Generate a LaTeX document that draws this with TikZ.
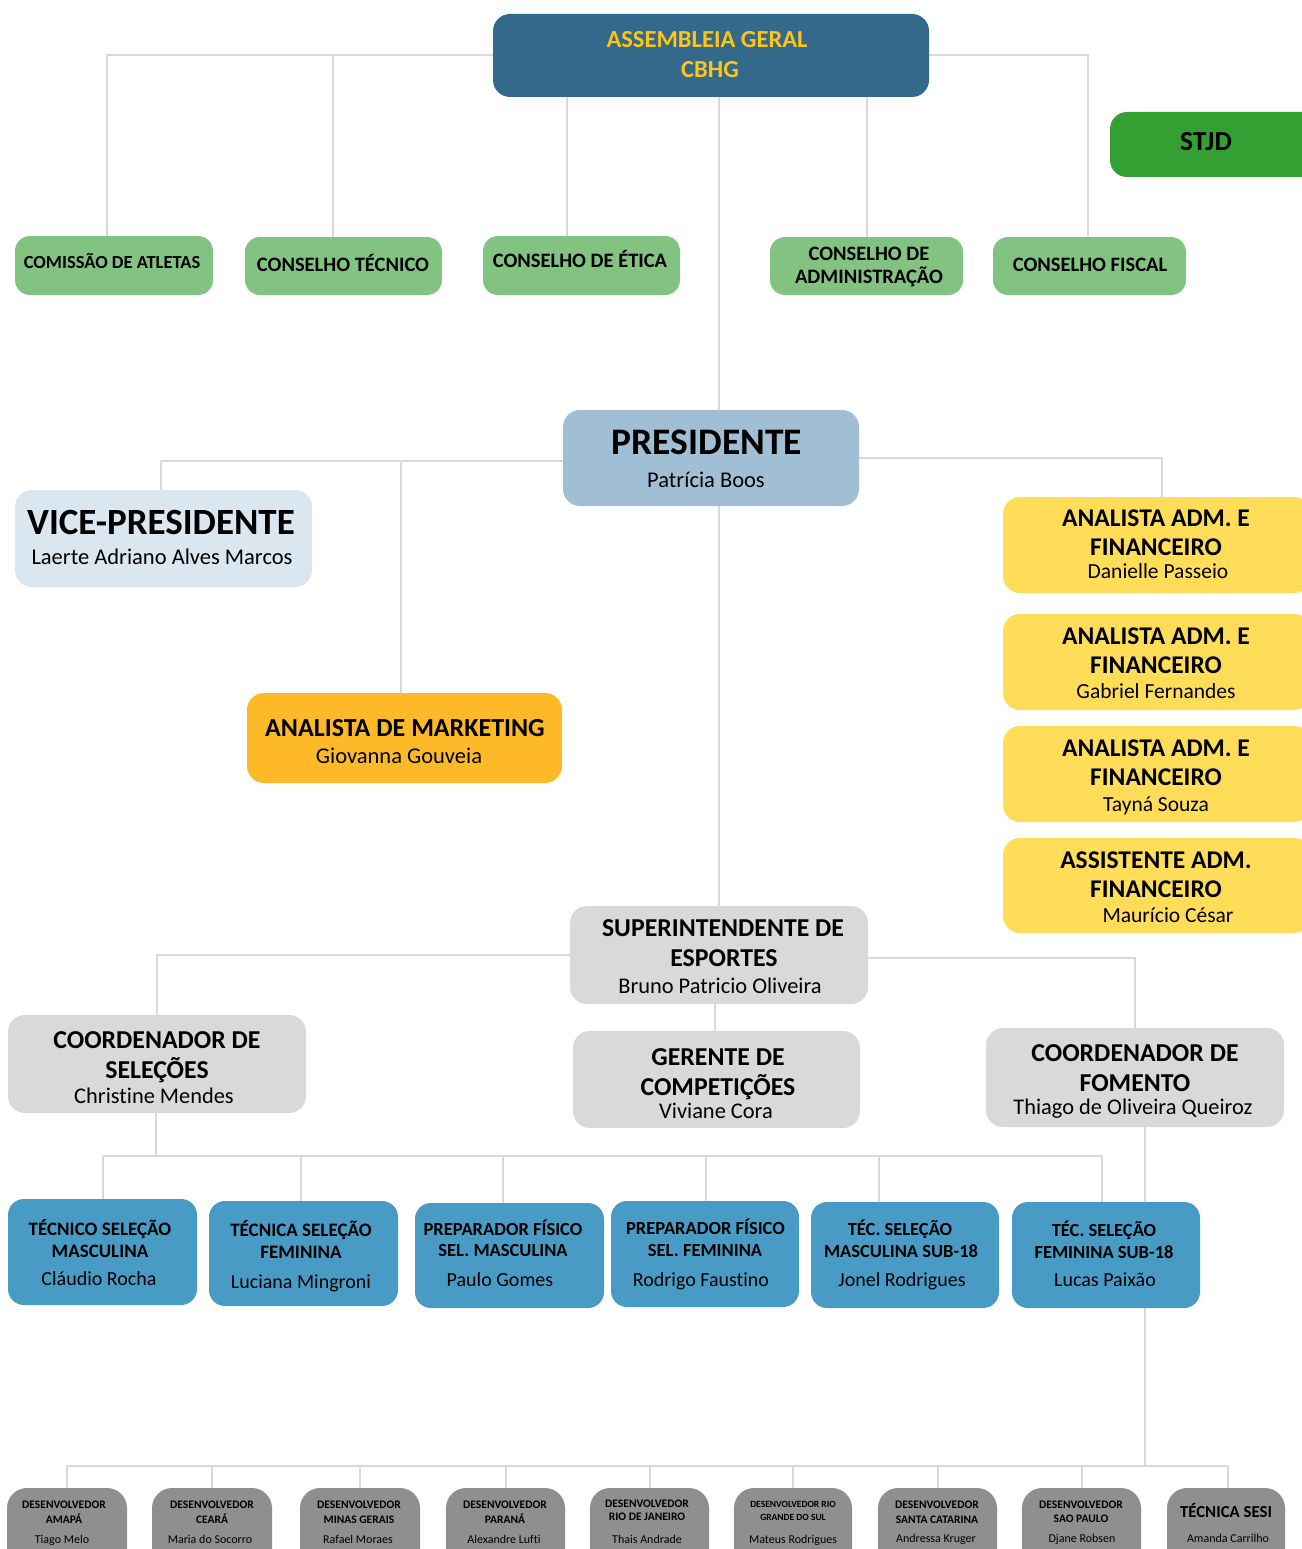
\documentclass[tikz,border=0pt]{standalone}
\usepackage{fontspec}
\setmainfont{Carlito}[Ligatures=NoCommon]
\definecolor{agblue}{RGB}{51,106,140}
\definecolor{agtext}{RGB}{255,196,20}
\definecolor{cgreen}{RGB}{130,195,130}
\definecolor{stjdgreen}{RGB}{52,160,52}
\definecolor{presblue}{RGB}{160,191,213}
\definecolor{vpblue}{RGB}{218,230,240}
\definecolor{mkorange}{RGB}{253,185,39}
\definecolor{admyellow}{RGB}{255,221,89}
\definecolor{lgray}{RGB}{217,217,217}
\definecolor{tblue}{RGB}{72,155,196}
\definecolor{dgray}{RGB}{143,143,143}
\definecolor{linegray}{RGB}{217,217,217}
\pgfdeclarelayer{bg}
\pgfsetlayers{bg,main}
% box: [opt]{name}{cx}{cy}{w}{h}{fill}
\newcommand\B[7][]{\node[box,fill=#7,minimum width=#5pt,minimum height=#6pt,#1] (#2) at (#3,#4) {};}
% bold caps text: [opt]{name}{x}{y-center}{size}{text}
\newcommand\TB[6][]{\node[anchor=base,inner sep=0pt,font=\fontsize{#5}{#5}\selectfont\bfseries,#1] (#2) at (#3,{#4+0.316*#5}) {#6};}
% regular text
\newcommand\TN[6][]{\node[anchor=base,inner sep=0pt,font=\fontsize{#5}{#5}\selectfont,#1] (#2) at (#3,{#4+0.30*#5}) {#6};}
\begin{document}
\begin{tikzpicture}[x=1pt,y=-1pt,
  box/.style={draw=none,rounded corners=17pt,inner sep=0pt,outer sep=0pt},
  conn/.style={draw=linegray,line width=2pt}]
\useasboundingbox (0,0) rectangle (1301,1549);
% ---------- top level
\B{ag}{711}{55.5}{436}{83}{agblue}
\TB[text=agtext]{tag1}{707}{40}{24.5}{ASSEMBLEIA GERAL}
\TB[text=agtext]{tag2}{710}{70}{24.5}{CBHG}
\B[rounded corners=15pt]{ca}{114}{265.5}{198}{59}{cgreen}
\TB{tca}{112}{263}{18.5}{COMISSÃO DE ATLETAS}
\B[rounded corners=15pt]{ct}{343.5}{266}{197}{58}{cgreen}
\TB{tct}{343}{265}{20.5}{CONSELHO TÉCNICO}
\B[rounded corners=15pt]{ce}{581.5}{265.5}{197}{59}{cgreen}
\TB{tce}{580}{261}{20.5}{CONSELHO DE ÉTICA}
\B[rounded corners=15pt]{cadm}{866.5}{266}{193}{58}{cgreen}
\TB{tcadm1}{869}{254}{20.5}{CONSELHO DE}
\TB{tcadm2}{869}{277}{20.5}{ADMINISTRAÇÃO}
\B[rounded corners=15pt]{cf}{1089.5}{266}{193}{58}{cgreen}
\TB{tcf}{1090}{265}{20.5}{CONSELHO FISCAL}
\B{stjd}{1216}{144.5}{212}{65}{stjdgreen}
\TB{tstjd}{1206}{142}{27.5}{STJD}
% ---------- presidency
\B{pres}{711}{458}{296}{96}{presblue}
\TB{tpres1}{707}{443}{37.5}{PRESIDENTE}
\TN{tpres2}{706}{481}{22.5}{Patrícia Boos}
\B{vp}{163.5}{538.5}{297}{97}{vpblue}
\TB{tvp1}{161}{523}{37}{VICE-PRESIDENTE}
\TN{tvp2}{162}{558}{22.5}{Laerte Adriano Alves Marcos}
\B{mk}{404.5}{738}{315}{90}{mkorange}
\TB{tmk1}{405}{728}{26}{ANALISTA DE MARKETING}
\TN{tmk2}{399}{757}{22.5}{Giovanna Gouveia}
\B{aa}{1157}{545}{308}{96}{admyellow}
\TB{taa1}{1156}{518}{25.5}{ANALISTA ADM. E}
\TB{taa2}{1156}{547}{25.5}{FINANCEIRO}
\TN{taa3}{1158}{572}{21.5}{Danielle Passeio}
\B{ab}{1157}{662}{308}{96}{admyellow}
\TB{tab1}{1156}{636}{25.5}{ANALISTA ADM. E}
\TB{tab2}{1156}{665}{25.5}{FINANCEIRO}
\TN{tab3}{1156}{692}{21.5}{Gabriel Fernandes}
\B{ac}{1157}{774}{308}{96}{admyellow}
\TB{tac1}{1156}{748}{25.5}{ANALISTA ADM. E}
\TB{tac2}{1156}{777}{25.5}{FINANCEIRO}
\TN{tac3}{1156}{805}{21.5}{Tayná Souza}
\B{ad}{1157}{885.5}{308}{95}{admyellow}
\TB{tad1}{1156}{860}{25.5}{ASSISTENTE ADM.}
\TB{tad2}{1156}{889}{25.5}{FINANCEIRO}
\TN{tad3}{1168}{916}{21.5}{Maurício César}
% ---------- sports
\B{supt}{719}{955}{298}{98}{lgray}
\TB{tsu1}{723}{928}{25.8}{SUPERINTENDENTE DE}
\TB{tsu2}{724}{958}{25.8}{ESPORTES}
\TN{tsu3}{720}{987}{22.4}{Bruno Patricio Oliveira}
\B{cs}{157}{1064}{298}{98}{lgray}
\TB{tcs1}{157}{1040}{25.8}{COORDENADOR DE}
\TB{tcs2}{157}{1070}{25.8}{SELEÇÕES}
\TN{tcs3}{154}{1097}{22.4}{Christine Mendes}
\B{ger}{716.5}{1079.5}{287}{97}{lgray}
\TB{tge1}{718}{1057}{25.8}{GERENTE DE}
\TB{tge2}{718}{1087}{25.8}{COMPETIÇÕES}
\TN{tge3}{716}{1112}{22.4}{Viviane Cora}
\B{cfo}{1135}{1077.5}{298}{99}{lgray}
\TB{tcf1}{1135}{1053}{25.8}{COORDENADOR DE}
\TB{tcf2}{1135}{1083}{25.8}{FOMENTO}
\TN{tcf3}{1133}{1108}{22.4}{Thiago de Oliveira Queiroz}
% ---------- blue row
\B[rounded corners=16pt]{b1}{102.5}{1252}{189}{106}{tblue}
\TB{tb1a}{100}{1229}{19}{TÉCNICO SELEÇÃO}
\TB{tb1b}{100}{1251}{19}{MASCULINA}
\TN{tb1c}{99}{1279}{20}{Cláudio Rocha}
\B[rounded corners=16pt]{b2}{303.5}{1253.5}{189}{105}{tblue}
\TB{tb2a}{301}{1230}{19}{TÉCNICA SELEÇÃO}
\TB{tb2b}{301}{1252}{19}{FEMININA}
\TN{tb2c}{301}{1282}{20}{Luciana Mingroni}
\B[rounded corners=16pt]{b3}{509.5}{1255.5}{189}{105}{tblue}
\TB{tb3a}{503}{1230}{18.5}{PREPARADOR FÍSICO}
\TB{tb3b}{503}{1251}{18.5}{SEL. MASCULINA}
\TN{tb3c}{500}{1280}{20}{Paulo Gomes}
\B[rounded corners=16pt]{b4}{705}{1254}{188}{106}{tblue}
\TB{tb4a}{705.5}{1229}{18.5}{PREPARADOR FÍSICO}
\TB{tb4b}{705}{1251}{18.5}{SEL. FEMININA}
\TN{tb4c}{701}{1280}{20}{Rodrigo Faustino}
\B[rounded corners=16pt]{b5}{905}{1255}{188}{106}{tblue}
\TB{tb5a}{900}{1230}{18.5}{TÉC. SELEÇÃO}
\TB{tb5b}{901}{1252}{18.5}{MASCULINA SUB-18}
\TN{tb5c}{902}{1280}{20}{Jonel Rodrigues}
\B[rounded corners=16pt]{b6}{1106}{1255}{188}{106}{tblue}
\TB{tb6a}{1104}{1231}{18.5}{TÉC. SELEÇÃO}
\TB{tb6b}{1104}{1253}{18.5}{FEMININA SUB-18}
\TN{tb6c}{1105}{1280}{20}{Lucas Paixão}
% ---------- bottom row
\B[rounded corners=20pt]{d1}{67}{1532}{120}{88}{dgray}
\TB{td1a}{64}{1504.5}{11.5}{DESENVOLVEDOR}
\TB{td1b}{64}{1520}{11.5}{AMAPÁ}
\TN{td1c}{62}{1540}{12}{Tiago Melo}
\B[rounded corners=20pt]{d2}{212}{1532}{120}{88}{dgray}
\TB{td2a}{212}{1504.5}{11.5}{DESENVOLVEDOR}
\TB{td2b}{212}{1520}{11.5}{CEARÁ}
\TN{td2c}{210}{1540}{12}{Maria do Socorro}
\B[rounded corners=20pt]{d3}{360}{1532}{120}{88}{dgray}
\TB{td3a}{359}{1504.5}{11.5}{DESENVOLVEDOR}
\TB{td3b}{359}{1520}{11.5}{MINAS GERAIS}
\TN{td3c}{358}{1540}{12}{Rafael Moraes}
\B[rounded corners=20pt]{d4}{505.5}{1532}{119}{88}{dgray}
\TB{td4a}{505}{1504.5}{11.5}{DESENVOLVEDOR}
\TB{td4b}{505}{1520}{11.5}{PARANÁ}
\TN{td4c}{504}{1540}{12}{Alexandre Lufti}
\B[rounded corners=20pt]{d5}{649.5}{1532}{119}{88}{dgray}
\TB{td5a}{647}{1503.5}{11.5}{DESENVOLVEDOR}
\TB{td5b}{647}{1517}{11.5}{RIO DE JANEIRO}
\TN{td5c}{647}{1540}{12}{Thais Andrade}
\B[rounded corners=20pt]{d6}{793}{1532}{118}{88}{dgray}
\TB{td6a}{793}{1504}{9.5}{DESENVOLVEDOR RIO}
\TB{td6b}{793}{1517}{9.5}{GRANDE DO SUL}
\TN{td6c}{793}{1540}{12}{Mateus Rodrigues}
\B[rounded corners=20pt]{d7}{937.5}{1532}{119}{88}{dgray}
\TB{td7a}{937}{1504.5}{11.5}{DESENVOLVEDOR}
\TB{td7b}{937}{1520}{11.5}{SANTA CATARINA}
\TN{td7c}{936}{1539}{12}{Andressa Kruger}
\B[rounded corners=20pt]{d8}{1081.5}{1532}{119}{88}{dgray}
\TB{td8a}{1081}{1504.5}{11.5}{DESENVOLVEDOR}
\TB{td8b}{1081}{1519}{11.5}{SAO PAULO}
\TN{td8c}{1082}{1539}{12}{Djane Robsen}
\B[rounded corners=20pt]{d9}{1226}{1532}{118}{88}{dgray}
\TB{td9a}{1226}{1512}{16.8}{TÉCNICA SESI}
\TN{td9b}{1228}{1539}{12}{Amanda Carrilho}
% ---------- connectors
\coordinate (bus1) at (0,1156);
\coordinate (bus2) at (0,1466);
\begin{pgfonlayer}{bg}
\fill[white] (0,0) rectangle (1301,1549);
% Assembleia
\draw[conn] (ag.west) -| ([xshift=-7pt]ca.north);
\draw[conn] ([xshift=-11pt]ct.north) -- ([xshift=-11pt]ct.north |- ag.west);
\draw[conn] ([xshift=-15pt]ce.north) -- ([xshift=-15pt]ce.north |- ag.south);
\draw[conn] (cadm.north) -- (cadm.north |- ag.south);
\draw[conn] (ag.east) -| ([xshift=-2pt]cf.north);
\draw[conn] (supt.north) -- (supt.north |- ag.south);
% Presidente
\draw[conn] ([yshift=-3pt]pres.west) -| ([xshift=-3pt]vp.north);
\draw[conn] ([xshift=-4pt]mk.north) -- ([xshift=-4pt,yshift=-3pt]mk.north |- pres.west);
\draw[conn] (pres.east) -| ([xshift=5pt]aa.north);
% Superintendente
\draw[conn] (supt.west) -| (cs.north);
\draw[conn] ([yshift=-3pt]supt.east) -| (cfo.north);
\draw[conn] ([xshift=-2pt]ger.north) -- ([xshift=-2pt]ger.north |- supt.south);
% Coordenador de Selecoes -> blue row
\draw[conn] ([xshift=-1pt]cs.south) -- ([xshift=-1pt]cs.south |- bus1);
\draw[conn] (b1.north |- bus1) -- ([xshift=-4pt]b6.north |- bus1);
\draw[conn] (b1.north) -- (b1.north |- bus1);
\draw[conn] ([xshift=-2.5pt]b2.north) -- ([xshift=-2.5pt]b2.north |- bus1);
\draw[conn] ([xshift=-6.5pt]b3.north) -- ([xshift=-6.5pt]b3.north |- bus1);
\draw[conn] ([xshift=1pt]b4.north) -- ([xshift=1pt]b4.north |- bus1);
\draw[conn] ([xshift=-26pt]b5.north) -- ([xshift=-26pt]b5.north |- bus1);
\draw[conn] ([xshift=-4pt]b6.north) -- ([xshift=-4pt]b6.north |- bus1);
% Coordenador de Fomento -> bottom row
\draw[conn] ([xshift=10pt]cfo.south) -- ([xshift=10pt]cfo.south |- bus2);
\draw[conn] (d1.north |- bus2) -- ([xshift=2pt]d9.north |- bus2);
\foreach \d in {d1,d2,d3,d4,d5,d6,d7,d8}{
  \draw[conn] (\d.north) -- (\d.north |- bus2);
}
\draw[conn] ([xshift=2pt]d9.north) -- ([xshift=2pt]d9.north |- bus2);
\end{pgfonlayer}
\end{tikzpicture}
\end{document}
